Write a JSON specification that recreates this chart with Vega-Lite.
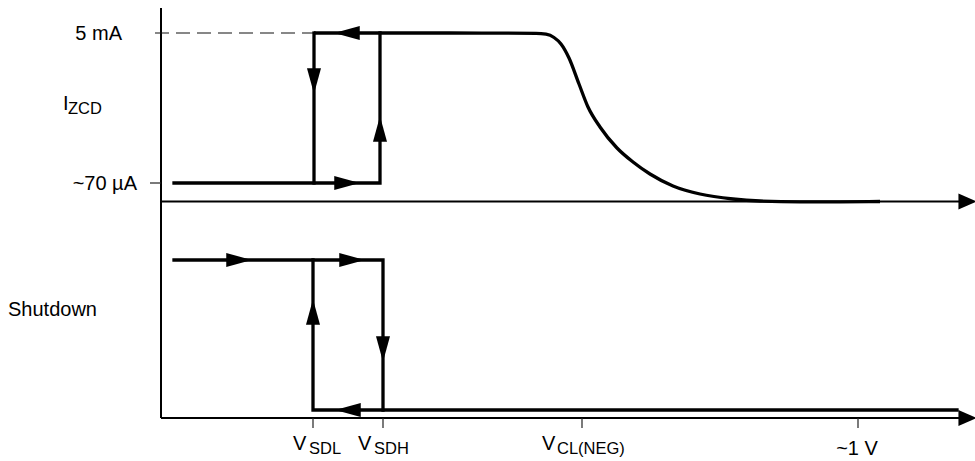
{
  "$schema": "https://vega.github.io/schema/vega-lite/v6.json",
  "width": 975,
  "height": 461,
  "padding": 0,
  "autosize": {"type": "none"},
  "background": "white",
  "config": {"view": {"stroke": null}},
  "datasets": {
    "axes": [
      {"x": 161, "y": 8, "x2": 161, "y2": 418},
      {"x": 161, "y": 201.5, "x2": 962, "y2": 201.5},
      {"x": 161, "y": 418, "x2": 962, "y2": 418}
    ],
    "ticks": [
      {"x": 150, "y": 183, "x2": 161, "y2": 183},
      {"x": 313, "y": 418, "x2": 313, "y2": 428},
      {"x": 383, "y": 418, "x2": 383, "y2": 428},
      {"x": 582, "y": 418, "x2": 582, "y2": 428},
      {"x": 858, "y": 418, "x2": 858, "y2": 428}
    ],
    "dashed": [
      {"x": 155, "y": 33, "x2": 314, "y2": 33}
    ],
    "paths": [
      {"seg": "zcd_up", "o": 0, "x": 174, "y": 183},
      {"seg": "zcd_up", "o": 1, "x": 380, "y": 183},
      {"seg": "zcd_up", "o": 2, "x": 380, "y": 33},
      {"seg": "zcd_down", "o": 0, "x": 314, "y": 183},
      {"seg": "zcd_down", "o": 1, "x": 314, "y": 33},
      {"seg": "sd_high", "o": 0, "x": 174, "y": 260},
      {"seg": "sd_high", "o": 1, "x": 383, "y": 260},
      {"seg": "sd_high", "o": 2, "x": 383, "y": 410},
      {"seg": "sd_low", "o": 0, "x": 313, "y": 260},
      {"seg": "sd_low", "o": 1, "x": 313, "y": 410},
      {"seg": "sd_low", "o": 2, "x": 957, "y": 410}
    ],
    "curve": [
      {"x": 314, "y": 33},
      {"x": 450, "y": 33},
      {"x": 536, "y": 33.3},
      {"x": 546, "y": 34.2},
      {"x": 554, "y": 37.5},
      {"x": 561, "y": 44},
      {"x": 569, "y": 58},
      {"x": 579, "y": 84},
      {"x": 588, "y": 107},
      {"x": 600, "y": 127},
      {"x": 617, "y": 148},
      {"x": 633, "y": 162},
      {"x": 650, "y": 174},
      {"x": 673, "y": 186},
      {"x": 700, "y": 194},
      {"x": 733, "y": 199},
      {"x": 760, "y": 201},
      {"x": 800, "y": 201.8},
      {"x": 840, "y": 201.8},
      {"x": 880, "y": 201.5}
    ],
    "arrows": [
      {"x": 347, "y": 33, "dir": "left"},
      {"x": 347, "y": 183, "dir": "right"},
      {"x": 314, "y": 81, "dir": "down"},
      {"x": 380, "y": 129, "dir": "up"},
      {"x": 239, "y": 260, "dir": "right"},
      {"x": 352, "y": 260, "dir": "right"},
      {"x": 313, "y": 312, "dir": "up"},
      {"x": 383, "y": 349, "dir": "down"},
      {"x": 348, "y": 410, "dir": "left"}
    ],
    "axisArrows": [
      {"x": 967.5, "y": 201.5},
      {"x": 967.5, "y": 418}
    ],
    "labelsRight": [
      {"x": 122, "y": 40, "t": "5 mA"},
      {"x": 137, "y": 190, "t": "~70 µA"}
    ],
    "labelsLeft": [
      {"x": 63, "y": 110, "t": "I"},
      {"x": 8, "y": 316, "t": "Shutdown"},
      {"x": 293, "y": 450, "t": "V"},
      {"x": 358, "y": 450, "t": "V"},
      {"x": 542, "y": 450, "t": "V"}
    ],
    "labelsCenter": [
      {"x": 857, "y": 455, "t": "~1 V"}
    ],
    "subs": [
      {"x": 68, "y": 114, "t": "ZCD"},
      {"x": 309, "y": 454, "t": "SDL"},
      {"x": 374, "y": 454, "t": "SDH"},
      {"x": 557, "y": 454, "t": "CL(NEG)"}
    ]
  },
  "encoding": {
    "x": {"field": "x", "type": "quantitative", "axis": null, "scale": {"domain": [0, 975], "nice": false, "zero": false}},
    "y": {"field": "y", "type": "quantitative", "axis": null, "scale": {"domain": [0, 461], "nice": false, "zero": false, "reverse": true}}
  },
  "layer": [
    {
      "data": {"name": "axes"},
      "mark": {"type": "rule", "stroke": "black", "strokeWidth": 2},
      "encoding": {"x2": {"field": "x2"}, "y2": {"field": "y2"}}
    },
    {
      "data": {"name": "ticks"},
      "mark": {"type": "rule", "stroke": "#222", "strokeWidth": 1.2},
      "encoding": {"x2": {"field": "x2"}, "y2": {"field": "y2"}}
    },
    {
      "data": {"name": "dashed"},
      "mark": {"type": "rule", "stroke": "#111", "strokeWidth": 1.2, "strokeDash": [14, 7]},
      "encoding": {"x2": {"field": "x2"}, "y2": {"field": "y2"}}
    },
    {
      "data": {"name": "paths"},
      "mark": {"type": "line", "stroke": "black", "strokeWidth": 3.3, "strokeJoin": "miter", "strokeCap": "square"},
      "encoding": {
        "detail": {"field": "seg", "type": "nominal"},
        "order": {"field": "o", "type": "quantitative"}
      }
    },
    {
      "data": {"name": "curve"},
      "mark": {"type": "line", "stroke": "black", "strokeWidth": 3.3, "interpolate": "monotone", "strokeCap": "butt"},
      "encoding": {}
    },
    {
      "data": {"name": "arrows"},
      "mark": {"type": "point", "filled": true, "color": "black", "opacity": 1, "size": 650, "strokeWidth": 0},
      "encoding": {
        "shape": {
          "field": "dir", "type": "nominal", "legend": null,
          "scale": {
            "domain": ["right", "left", "up", "down"],
            "range": ["M-1,-0.55L1,0L-1,0.55Z", "M1,-0.55L-1,0L1,0.55Z", "M-0.55,1L0,-1L0.55,1Z", "M-0.55,-1L0,1L0.55,-1Z"]
          }
        }
      }
    },
    {
      "data": {"name": "axisArrows"},
      "mark": {"type": "point", "filled": true, "color": "black", "opacity": 1, "size": 330, "strokeWidth": 0, "shape": "M-1,-0.87L1,0L-1,0.87Z"},
      "encoding": {}
    },
    {
      "data": {"name": "labelsRight"},
      "mark": {"type": "text", "align": "right", "baseline": "alphabetic", "font": "Liberation Sans", "fontSize": 20, "color": "black"},
      "encoding": {"text": {"field": "t"}}
    },
    {
      "data": {"name": "labelsLeft"},
      "mark": {"type": "text", "align": "left", "baseline": "alphabetic", "font": "Liberation Sans", "fontSize": 20, "color": "black"},
      "encoding": {"text": {"field": "t"}}
    },
    {
      "data": {"name": "labelsCenter"},
      "mark": {"type": "text", "align": "center", "baseline": "alphabetic", "font": "Liberation Sans", "fontSize": 20, "color": "black"},
      "encoding": {"text": {"field": "t"}}
    },
    {
      "data": {"name": "subs"},
      "mark": {"type": "text", "align": "left", "baseline": "alphabetic", "font": "Liberation Sans", "fontSize": 16.5, "color": "black"},
      "encoding": {"text": {"field": "t"}}
    }
  ]
}
